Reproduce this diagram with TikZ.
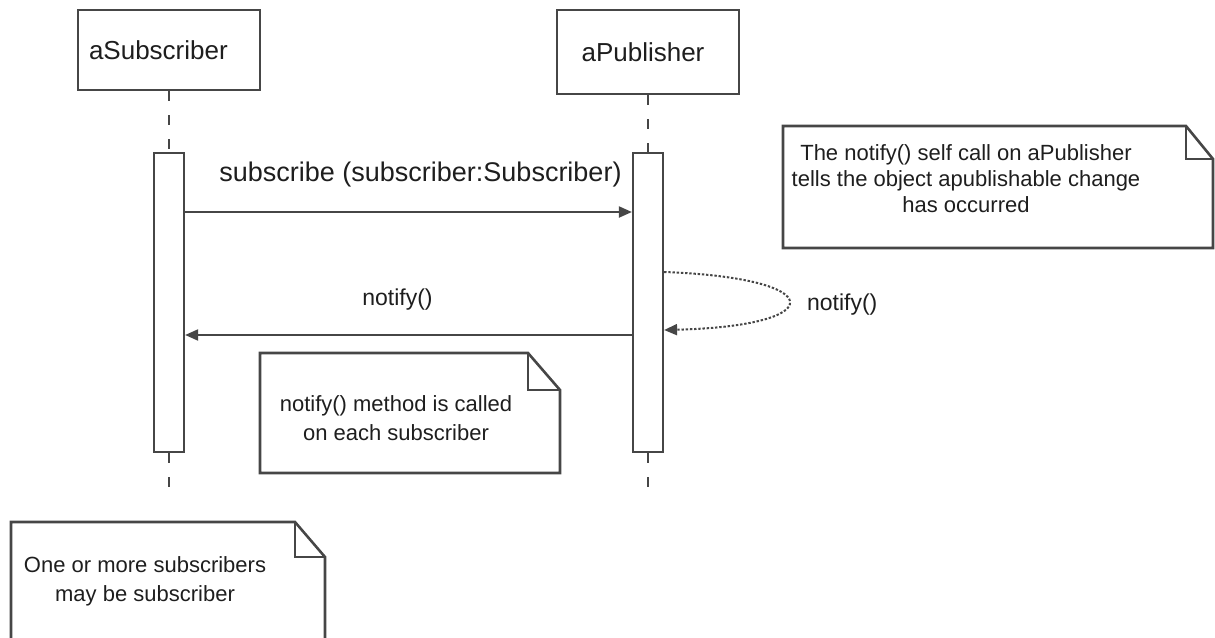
\documentclass[tikz,border=0pt]{standalone}
\usepackage{fontspec}
\setmainfont{Liberation Sans}
\usepackage{tikz}
\usetikzlibrary{arrows.meta, positioning, calc}
\definecolor{linegray}{RGB}{70,70,70}
\definecolor{textgray}{RGB}{30,30,30}

\begin{document}
\begin{tikzpicture}[
        x=0.5pt, y=-0.5pt,
        box/.style={rectangle, draw=linegray, line width=1.3pt, fill=white, minimum width=91pt, minimum height=40pt, align=center, font=\fontsize{13}{15}\selectfont, text=textgray},
        bar/.style={rectangle, draw=linegray, line width=1.1pt, fill=white, minimum width=15pt, minimum height=149.5pt, inner sep=0pt},
        lifeline/.style={draw=linegray, line width=1pt, dash pattern=on 5pt off 7pt},
        msg/.style={-{Triangle[length=6.5pt, width=5.5pt]}, line width=1pt, draw=linegray},
        selfmsg/.style={msg, dash pattern=on 1.2pt off 0.9pt},
        note/.style={draw=linegray, line width=1.3pt, line join=miter},
        notetext/.style={align=center, font=\fontsize{11}{14.5}\selectfont, text=textgray},
        label/.style={font=\fontsize{11.5}{14}\selectfont, text=textgray}
    ]
        \useasboundingbox (0,0) rectangle (1215,637);
        \clip (0,0) rectangle (1215,637);

        % lifeline heads
        \node[box, text width=80pt, align=left] (sub) at (169,50) {aSubscriber};
        \node[box, minimum height=42pt, text width=80pt, align=center] (pub) at (648,52) {\hspace*{-5pt}aPublisher};

        % activation bars
        \node[bar] (subact) at (169,302.5) {};
        \node[bar] (pubact) at (648,302.5) {};
        \coordinate (subend) at (169,492);
        \coordinate (pubend) at (648,492);

        \draw[lifeline] (sub.south) -- (subact.north);
        \draw[lifeline] (pub.south) -- (pubact.north);
        \draw[lifeline] (subact.south) -- (subend);
        \draw[lifeline] (pubact.south) -- (pubend);

        % messages
        \coordinate (m1) at (0,212);
        \coordinate (m2) at (0,335);
        \coordinate (s1) at (0,272);
        \coordinate (s2) at (0,330);
        \draw[msg] (subact.east |- m1) -- node[above=8.5pt, xshift=6pt, font=\fontsize{13.5}{16}\selectfont, text=textgray] (sublbl) {subscribe (subscriber:Subscriber)} (pubact.west |- m1);
        \draw[msg] (pubact.west |- m2) -- node[label, above=8.5pt, xshift=-5.5pt] (notlbl) {notify()} (subact.east |- m2);
        \draw[selfmsg] (pubact.east |- s1) .. controls (830,278) and (830,326) .. (pubact.east |- s2);
        \node[label, right] (selflbl) at (800,305) {notify()};

        % notes
        \draw[note] (783,126) -- (1186,126) -- (1213,159) -- (1213,248) -- (783,248) -- cycle;
        \draw[note] (1186,126) -- (1186,159) -- (1213,159);
        \node[notetext, font=\fontsize{11}{13}\selectfont] (note1) at (966,179) {The notify() self call on aPublisher\\tells the object apublishable change\\has occurred};

        \draw[note] (260,353) -- (528,353) -- (560,390) -- (560,473) -- (260,473) -- cycle;
        \draw[note] (528,353) -- (528,390) -- (560,390);
        \node[notetext] (note2) at (396,418) {notify() method is called\\on each subscriber};

        \draw[note] (11,522) -- (295,522) -- (325,557) -- (325,660) -- (11,660) -- cycle;
        \draw[note] (295,522) -- (295,557) -- (325,557);
        \node[notetext] (note3) at (145,581) {One or more subscribers\\may be subscriber};
    \end{tikzpicture}
\end{document}
